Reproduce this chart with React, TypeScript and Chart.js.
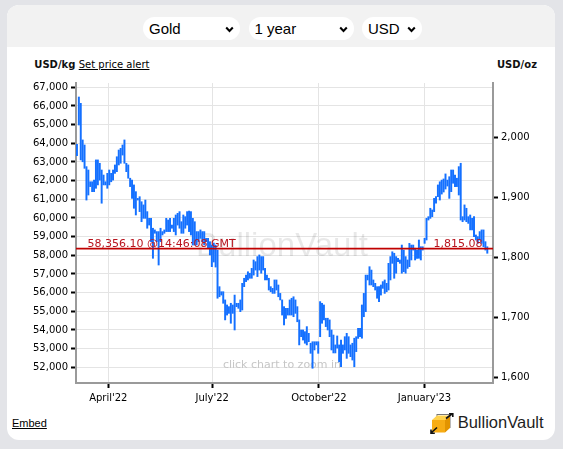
import React, { useEffect, useRef } from "react";
import { Chart, registerables } from "chart.js";

Chart.register(...registerables);

// Daily high / low bars, USD per kg
const highs = [
  63950, 66480, 66140, 64180, 63910, 62750, 62570, 61940, 61940, 62030,
  63110, 63110, 62930, 62570, 62300, 61940, 62390, 62570, 62390, 62570,
  62840, 63280, 63640, 63730, 63910, 64180, 62930, 62840, 62130, 62030,
  61770, 61410, 61050, 61140, 60870, 60700, 60960, 60340, 59980, 59980,
  59450, 59360, 59270, 59270, 59450, 59270, 59360, 59980, 59890, 59980,
  59620, 59980, 60160, 60250, 60340, 59800, 60160, 60070, 60340, 60370,
  60340, 59980, 59800, 59270, 59270, 59360, 59270, 59270, 58910, 58910,
  58730, 58550, 58660, 58550, 58280, 56320, 56050, 56050, 55610, 55340,
  55250, 55430, 55340, 55870, 55430, 55430, 55610, 56500, 56770, 56940,
  57120, 57040, 57300, 57750, 57660, 57930, 58020, 57930, 57930, 57300,
  56940, 56770, 56320, 56230, 56680, 56680, 56410, 55960, 55610, 55250,
  55160, 55160, 55610, 55700, 55780, 55610, 55250, 54540, 54000, 54000,
  53910, 54180, 53820, 53290, 53370, 53370, 53370, 53370, 55520, 55430,
  55340, 54630, 54630, 54540, 54000, 53730, 53200, 53680, 53200, 53460,
  53200, 53640, 53820, 53640, 53200, 53290, 53560, 53640, 54090, 54090,
  55340, 55960, 56940, 56940, 57390, 57210, 56680, 56500, 56320, 56320,
  56410, 56590, 56680, 56500, 57570, 57930, 58190, 58110, 57930, 57840,
  57750, 58550, 58280, 57930, 57750, 58640, 58550, 58550, 58380, 58280,
  58820, 58460, 58460, 58910, 59980, 60070, 60520, 60430, 61050, 61140,
  61770, 61940, 62030, 62090, 62360, 62030, 62210, 62570, 62570, 62300,
  62130, 62750, 62930, 60070, 60700, 60520, 60070, 60160, 59980, 60070,
  59090, 59000, 59270, 59360, 59360, 58730, 58460,
];
const lows = [
  63340, 64980, 63110, 63010, 62660, 60960, 61230, 61680, 61410, 61410,
  61590, 61770, 62030, 60790, 61770, 61770, 61590, 61770, 61940, 62030,
  62390, 62480, 62840, 62930, 63370, 62930, 62480, 62130, 61680, 61050,
  60520, 60160, 60960, 60340, 59800, 59980, 59980, 59450, 59620, 58730,
  57840, 59180, 58730, 57480, 58730, 59090, 59180, 59270, 59270, 59270,
  59450, 59270, 59090, 59620, 59450, 59180, 59180, 59450, 59620, 59270,
  59090, 58550, 58550, 58550, 58730, 58910, 58730, 58550, 58730, 58380,
  58020, 57390, 57640, 57370, 55700, 55780, 55870, 55430, 54540, 54800,
  54890, 54360, 54890, 54000, 55250, 55160, 54980, 55070, 56320, 56590,
  56680, 56770, 56770, 56940, 57210, 56860, 57210, 57040, 57210, 56680,
  56680, 56140, 56050, 55960, 55960, 56140, 55780, 55610, 54800, 54270,
  54620, 54800, 54800, 54800, 54710, 54890, 54440, 53200, 53640, 53460,
  53290, 53200, 53370, 52750, 51950, 52930, 53200, 52750, 53640, 54360,
  54540, 54180, 54000, 53640, 52930, 52770, 52770, 53030, 52290, 52030,
  52750, 52930, 52480, 52750, 52570, 52390, 52030, 52840, 53550, 53640,
  53560, 54710, 54980, 56680, 56410, 56410, 56320, 56140, 55700, 55520,
  55870, 56230, 55960, 56050, 56140, 56680, 57570, 56770, 57040, 57660,
  57570, 57040, 57120, 57040, 57300, 57390, 57750, 58280, 57750, 57840,
  57840, 57750, 58280, 58640, 58820, 59890, 59980, 60070, 60340, 60790,
  61140, 60960, 61280, 61390, 61550, 61710, 61050, 61410, 61860, 61680,
  61680, 61230, 59890, 59800, 59890, 59800, 59710, 59360, 59360, 59000,
  58820, 58640, 58820, 58640, 58460, 58280, 58110,
];

const leftTicks = [52000, 53000, 54000, 55000, 56000, 57000, 58000, 59000, 60000, 61000, 62000, 63000, 64000, 65000, 66000, 67000];
const rightTicks = [1600, 1700, 1800, 1900, 2000];
// month starts, expressed as bar index
const monthTickIdx = [16.5, 71.2, 127.4, 182.9];
const monthLabels = ["April'22", "July'22", "October'22", "January'23"];

const lastPriceKg = 58356.1;
const lastPriceOz = 1815.08;
const lastTime = "14:46:08 GMT";
const OZ_PER_KG = 32.1507;
const yMinKg = 51160;
const yMaxKg = 67230;

const fmt = (v: number) => v.toLocaleString("en-US");

const overlayPlugin = {
  id: "bvOverlay",
  beforeDatasetsDraw(chart: any) {
    const { ctx, chartArea } = chart;
    const cx = (chartArea.left + chartArea.right) / 2 - 2.5;
    ctx.save();
    ctx.textAlign = "center";
    ctx.textBaseline = "alphabetic";
    ctx.font = '33px "Liberation Sans", Arial, sans-serif';
    ctx.fillStyle = "rgba(0,0,0,0.09)";
    ctx.fillText("BullionVault", cx, chartArea.top + 173);
    ctx.font = '11px "DejaVu Sans", sans-serif';
    ctx.fillStyle = "#c6c6c6";
    ctx.fillText("click chart to zoom in", cx, chartArea.bottom - 15);
    ctx.restore();
  },
  afterDatasetsDraw(chart: any) {
    const { ctx, chartArea } = chart;
    const y = chart.scales.y.getPixelForValue(lastPriceKg);
    ctx.save();
    ctx.strokeStyle = "#c00000";
    ctx.lineWidth = 1.6;
    ctx.beginPath();
    ctx.moveTo(chartArea.left, y);
    ctx.lineTo(chartArea.right, y);
    ctx.stroke();
    ctx.font = '11px "DejaVu Sans", sans-serif';
    ctx.fillStyle = "#b8141e";
    ctx.textBaseline = "alphabetic";
    ctx.textAlign = "left";
    ctx.fillText(
      lastPriceKg.toLocaleString("en-US", { minimumFractionDigits: 2, maximumFractionDigits: 2 }) + " @" + lastTime,
      chartArea.left + 11.5,
      y - 2
    );
    ctx.textAlign = "right";
    ctx.fillText(
      lastPriceOz.toLocaleString("en-US", { minimumFractionDigits: 2, maximumFractionDigits: 2 }),
      chartArea.right - 10.5,
      y - 2
    );
    ctx.restore();
  },
};

function Pill({ left, width, label }: { left: number; width: number; label: string }) {
  return (
    <div
      style={{
        position: "absolute",
        left,
        top: 17,
        width,
        height: 23,
        borderRadius: 12,
        background: "#fff",
        boxSizing: "border-box",
        paddingLeft: 6,
        font: '15px "Liberation Sans", Arial, sans-serif',
        lineHeight: "23px",
        color: "#000",
        whiteSpace: "nowrap",
      }}
    >
      {label}
      <svg
        width={9}
        height={7}
        style={{ position: "absolute", right: 6, top: 9 }}
        viewBox="0 0 9 7"
      >
        <path d="M1.2 1.5 L4.5 5 L7.8 1.5" fill="none" stroke="#000" strokeWidth={2} />
      </svg>
    </div>
  );
}

export default function App() {
  const canvasRef = useRef<HTMLCanvasElement | null>(null);

  useEffect(() => {
    const canvas = canvasRef.current;
    if (!canvas) return;
    const data = highs.map((h, i) => ({ x: i, y: [lows[i], h] }));
    const chart = new Chart(canvas, {
      type: "bar",
      data: {
        datasets: [
          {
            data: data as any,
            backgroundColor: "#1470ff",
            borderWidth: 0,
            barThickness: 1.3,
            grouped: false,
            yAxisID: "y",
            xAxisID: "x",
          } as any,
        ],
      },
      plugins: [overlayPlugin],
      options: {
        responsive: false,
        animation: false,
        events: [],
        layout: { padding: { top: 83, bottom: 36, left: 0, right: 0 } },
        plugins: { legend: { display: false }, tooltip: { enabled: false } },
        scales: {
          x: {
            type: "linear",
            min: -0.5,
            max: 219,
            offset: false,
            afterBuildTicks: (scale: any) => {
              scale.ticks = monthTickIdx.map((v) => ({ value: v }));
            },
            afterFit: (scale: any) => {
              scale.height = 30;
            },
            ticks: {
              autoSkip: false,
              maxRotation: 0,
              padding: 4,
              color: "#000",
              font: { family: '"DejaVu Sans", sans-serif', size: 10 },
              callback: (_v: any, i: number) => monthLabels[i],
            },
            grid: {
              offset: false,
              color: "#e4e4e4",
              lineWidth: 1,
              tickLength: 5,
              tickColor: "#000",
              tickWidth: 2,
            },
            border: { color: "#9a9a9a", width: 2 },
          },
          y: {
            type: "linear",
            position: "left",
            min: yMinKg,
            max: yMaxKg,
            afterBuildTicks: (scale: any) => {
              scale.ticks = leftTicks.map((v) => ({ value: v }));
            },
            afterFit: (scale: any) => {
              scale.width = 76;
            },
            ticks: {
              autoSkip: false,
              padding: 3,
              color: "#000",
              font: { family: '"DejaVu Sans", sans-serif', size: 10 },
              callback: (v: any) => fmt(Number(v)),
            },
            grid: {
              color: "#e4e4e4",
              lineWidth: 1,
              tickLength: 5,
              tickColor: "#000",
              tickWidth: 2,
            },
            border: { color: "#9a9a9a", width: 2 },
          },
          y2: {
            type: "linear",
            position: "right",
            min: yMinKg / OZ_PER_KG,
            max: yMaxKg / OZ_PER_KG,
            afterBuildTicks: (scale: any) => {
              scale.ticks = rightTicks.map((v) => ({ value: v }));
            },
            afterFit: (scale: any) => {
              scale.width = 70;
            },
            ticks: {
              autoSkip: false,
              padding: 3,
              color: "#000",
              font: { family: '"DejaVu Sans", sans-serif', size: 10 },
              callback: (v: any) => fmt(Number(v)),
            },
            grid: {
              drawOnChartArea: false,
              tickLength: 5,
              tickColor: "#000",
              tickWidth: 2,
            },
            border: { color: "#9a9a9a", width: 2 },
          },
        },
      } as any,
    });
    return () => chart.destroy();
  }, []);

  return (
    <div
      style={{
        position: "fixed",
        left: 0,
        top: 0,
        width: 563,
        height: 449,
        background: "#e3e4e8",
        overflow: "hidden",
      }}
    >
      <div
        style={{
          position: "absolute",
          left: 7,
          top: 5,
          width: 548,
          height: 435,
          background: "#fff",
          borderRadius: 12,
          overflow: "hidden",
        }}
      >
        <div style={{ position: "absolute", left: 0, top: 0, right: 0, height: 42, background: "#f2f2f2" }} />
      </div>
      <Pill left={143} width={97} label="Gold" />
      <Pill left={248.5} width={105.5} label="1 year" />
      <Pill left={362} width={60} label="USD" />

      <div
        style={{
          position: "absolute",
          left: 34.3,
          top: 59.8,
          font: 'bold 10px "DejaVu Sans", sans-serif',
          lineHeight: "10px",
          color: "#111",
          whiteSpace: "nowrap",
        }}
      >
        USD/kg
      </div>
      <div
        style={{
          position: "absolute",
          left: 78.7,
          top: 59.8,
          font: '10px "DejaVu Sans", sans-serif',
          lineHeight: "10px",
          color: "#000",
          textDecoration: "underline",
          whiteSpace: "nowrap",
        }}
      >
        Set price alert
      </div>
      <div
        style={{
          position: "absolute",
          left: 497,
          top: 59.8,
          font: 'bold 10px "DejaVu Sans", sans-serif',
          lineHeight: "10px",
          color: "#111",
          whiteSpace: "nowrap",
        }}
      >
        USD/oz
      </div>
      <div
        style={{
          position: "absolute",
          left: 12,
          top: 417.7,
          font: '11px "Liberation Sans", Arial, sans-serif',
          lineHeight: "11px",
          color: "#000",
          textDecoration: "underline",
          whiteSpace: "nowrap",
        }}
      >
        Embed
      </div>
      <svg
        width={24}
        height={21}
        viewBox="0 0 24 21"
        style={{ position: "absolute", left: 430, top: 412.5 }}
      >
        <rect x={7} y={1.5} width={13} height={13} fill="none" stroke="#777" strokeWidth={1} />
        <polygon points="2,7 7,2.5 20,2.5 15,7" fill="#ffd24d" />
        <polygon points="15,7 20,2.5 20,15 15,19.5" fill="#e39400" />
        <rect x={2} y={7} width={13} height={12.5} fill="#f7ac14" />
        <path d="M16 5.5 L22.5 0.5 M19 0.5 L22.8 0.5 L22.8 4" fill="none" stroke="#111" strokeWidth={1.6} />
        <path d="M7 14.5 L1 20 M1 16.5 L1 20.2 L4.8 20.2" fill="none" stroke="#111" strokeWidth={1.6} />
      </svg>
      <div
        style={{
          position: "absolute",
          left: 457.7,
          top: 414.3,
          font: '16.5px "Liberation Sans", Arial, sans-serif',
          lineHeight: "16.5px",
          color: "#1e1e1e",
          whiteSpace: "nowrap",
        }}
      >
        BullionVault
      </div>
      <canvas
        ref={canvasRef}
        width={563}
        height={449}
        style={{ position: "absolute", left: 0, top: 0, width: 563, height: 449 }}
      />
    </div>
  );
}
